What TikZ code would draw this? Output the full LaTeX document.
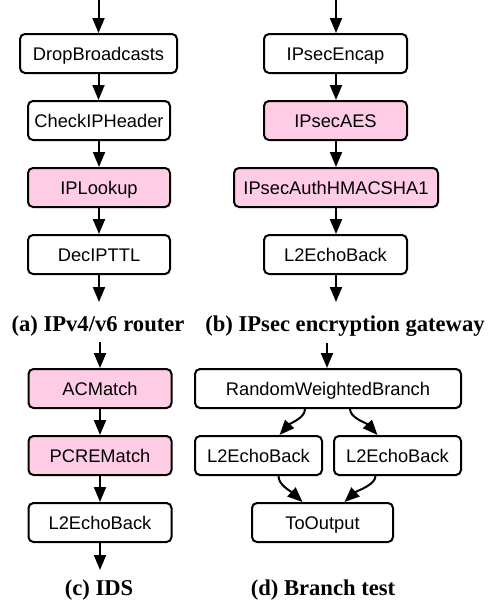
\documentclass[tikz,border=0pt]{standalone}
\usepackage{fontspec}
\setmainfont{Liberation Serif}
\setsansfont{Liberation Sans}
\usetikzlibrary{arrows.meta}
\definecolor{pinkfill}{RGB}{255,204,229}
\begin{document}
\begin{tikzpicture}[x=1pt,y=-1pt,
  box/.style={draw,line width=2pt,rounded corners=5pt,minimum height=39pt,inner sep=0pt,
    text height=13pt,text depth=0pt,fill=white,
    font=\sffamily\fontsize{18.3}{22}\selectfont},
  hot/.style={box,fill=pinkfill},
  arr/.style={line width=2pt,-{Triangle[length=15pt,width=12pt]}},
  captxt/.style={anchor=base,font=\bfseries\fontsize{22.6}{26}\selectfont}]
\fill[white] (0,0) rectangle (490,600);
\useasboundingbox (0,0) rectangle (490,600);

% (a) IPv4/v6 router
\node[box,minimum width=157pt] (drop) at (98.5,53.5) {DropBroadcasts};
\node[box,minimum width=142pt] (check) at (99,120.5) {CheckIPHeader};
\node[hot,minimum width=142pt] (iplook) at (99,187.5) {IPLookup};
\node[box,minimum width=142pt] (dec) at (99,254.5) {DecIPTTL};
\coordinate (ain) at (98.5,0);
\coordinate (aout) at (99,302);
\draw[arr] (ain) -- (drop.north);
\draw[arr] (drop.south) -- (drop.south |- check.north);
\draw[arr] (check) -- (iplook);
\draw[arr] (iplook) -- (dec);
\draw[arr] (dec.south) -- (aout);
\node[captxt] (capa) at (98,331) {(a) IPv4/v6 router};

% (b) IPsec encryption gateway
\node[box,minimum width=143pt] (encap) at (335.5,53.5) {IPsecEncap};
\node[hot,minimum width=143pt] (aes) at (335.5,120.5) {IPsecAES};
\node[hot,minimum width=204pt] (auth) at (336,187.5) {IPsecAuthHMACSHA1};
\node[box,minimum width=143pt] (l2b) at (335.5,254.5) {L2EchoBack};
\coordinate (bin) at (336,0);
\coordinate (bout) at (336,302);
\draw[arr] (bin) -- (bin |- encap.north);
\draw[arr] (bin |- encap.south) -- (bin |- aes.north);
\draw[arr] (bin |- aes.south) -- (bin |- auth.north);
\draw[arr] (bin |- auth.south) -- (bin |- l2b.north);
\draw[arr] (bin |- l2b.south) -- (bout);
\node[captxt] (capb) at (345,331) {(b) IPsec encryption gateway};

% (c) IDS
\node[hot,minimum width=143pt] (acm) at (100,388.5) {ACMatch};
\node[hot,minimum width=143pt] (pcre) at (100,455.5) {PCREMatch};
\node[box,minimum width=143pt] (l2c) at (100,522.5) {L2EchoBack};
\coordinate (cin) at (100,342);
\coordinate (cout) at (100,570);
\draw[arr] (cin) -- (acm.north);
\draw[arr] (acm) -- (pcre);
\draw[arr] (pcre) -- (l2c);
\draw[arr] (l2c.south) -- (cout);
\node[captxt] (capc) at (99,595) {(c) IDS};

% (d) Branch test
\node[box,minimum width=266pt] (rwb) at (328,388.5) {RandomWeightedBranch};
\node[box,minimum width=127pt] (l2l) at (258.5,455.5) {L2EchoBack};
\node[box,minimum width=127pt] (l2r) at (397.5,455.5) {L2EchoBack};
\node[box,minimum width=141pt] (toout) at (322.5,522.5) {ToOutput};
\coordinate (din) at (327,343);
\draw[arr] (din) -- (din |- rwb.north);
\draw[arr] ([xshift=-23pt]rwb.south) .. controls +(0,9) and +(11,-12) .. ([xshift=21pt]l2l.north);
\draw[arr] ([xshift=22pt]rwb.south) .. controls +(0,9) and +(-11,-12) .. ([xshift=-20pt]l2r.north);
\draw[arr] ([xshift=20pt]l2l.south) .. controls +(0,9) and +(-12,-11) .. ([xshift=-20pt]toout.north);
\draw[arr] ([xshift=-22pt]l2r.south) .. controls +(0,9) and +(12,-11) .. ([xshift=22pt]toout.north);
\node[captxt] (capd) at (323,595) {(d) Branch test};
\end{tikzpicture}
\end{document}
